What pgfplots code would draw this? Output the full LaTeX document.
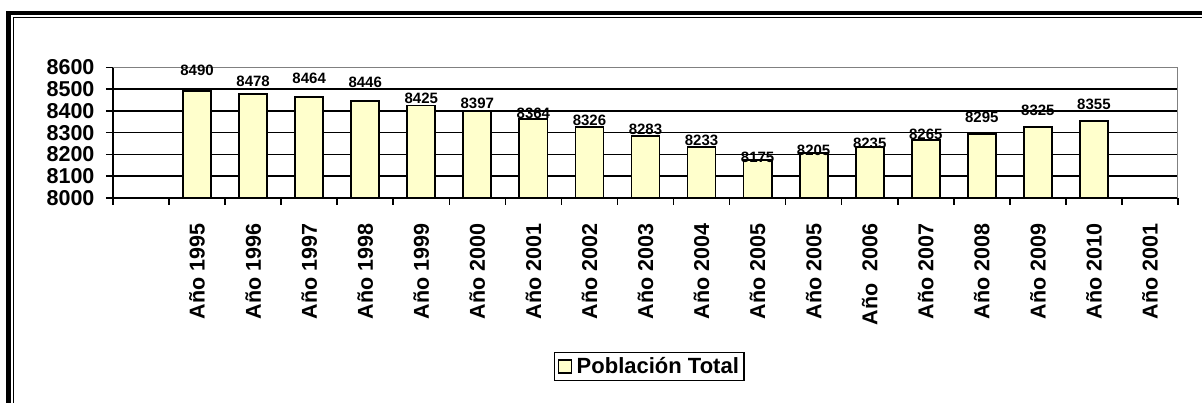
\documentclass[border=0pt]{standalone}
\usepackage{fontspec}
\setmainfont{Liberation Sans}
\usepackage{pgfplots}
\usepackage{pgfplotstable}
\pgfplotsset{compat=1.18}
\definecolor{barfill}{HTML}{FFFFCC}
\definecolor{framegray}{HTML}{808080}

\pgfplotstableread{
x y
1 8490
2 8478
3 8464
4 8446
5 8425
6 8397
7 8364
8 8326
9 8283
10 8233
11 8175
12 8205
13 8235
14 8265
15 8295
16 8325
17 8355
}\bars

\pgfplotstableread{
x ly v
1 8588 8490
2 8535 8478
3 8549 8464
4 8530 8446
5 8459 8425
6 8434 8397
7 8390 8364
8 8358 8326
9 8317 8283
10 8266 8233
11 8186 8175
12 8220 8205
13 8252 8235
14 8294 8265
15 8370 8295
16 8402 8325
17 8429 8355
}\labels

\begin{document}
\begin{tikzpicture}[x=1pt,y=1pt]
\path[use as bounding box] (0,0) rectangle (1202,403);
\draw[line width=4.5pt] (8.5,-20) -- (8.5,390) -- (1230,390);
\draw[line width=1.3pt] (13.5,-20) -- (13.5,385.5) -- (1230,385.5);
\begin{axis}[
  at={(113pt,205pt)}, anchor=south west,
  scale only axis, width=1065pt, height=130.7pt,
  xmin=-0.5, xmax=18.5, ymin=8000, ymax=8600,
  ytick={8000,8100,...,8600},
  ymajorgrids, grid style={black, line width=1.6pt},
  axis x line*=bottom, axis y line*=left,
  axis line style={black, line width=1.6pt, -},
  xtick={-0.5,0.5,...,18.5},
  x tick label as interval,
  xticklabels={{},Año 1995,Año 1996,Año 1997,Año 1998,Año 1999,Año 2000,Año 2001,Año 2002,Año 2003,Año 2004,Año 2005,Año 2005,Año\ \ 2006,Año 2007,Año 2008,Año 2009,Año 2010,Año 2001,{}},
  tick align=outside, major tick length=7pt,
  tick style={black, line width=1.6pt},
  xticklabel shift=15pt,
  yticklabel shift=8pt,
  xticklabel style={rotate=90, anchor=east, font=\fontsize{21.5}{21.5}\selectfont\bfseries},
  yticklabel style={font=\fontsize{21.5}{21.5}\selectfont\bfseries},
  /pgf/number format/assume math mode=true,
  /pgf/number format/1000 sep={},
  legend style={at={(0.5035,-1.289)}, anchor=center, draw=black, line width=1.5pt,
    font=\fontsize{22}{22}\selectfont\bfseries, inner xsep=3pt, inner ysep=3pt},
]
\addplot[ybar, bar width=0.5, fill=barfill, draw=black, line width=1.8pt,
  legend image code/.code={\draw[fill=barfill, draw=black, line width=1.2pt] (0pt,-6.5pt) rectangle (13pt,6.5pt);}]
  table[x=x,y=y]{\bars};
\addlegendentry{\hspace{3pt}Población Total\hspace{8pt}}
\addplot[forget plot, only marks, mark options={draw=none, fill=none},
  nodes near coords, point meta=explicit symbolic,
  nodes near coords style={anchor=center, font=\fontsize{15}{15}\selectfont\bfseries}]
  table[x=x,y=ly,meta=v]{\labels};
\draw[framegray, line width=1.6pt] (rel axis cs:0,1) -- (rel axis cs:1,1) -- (rel axis cs:1,0);
\end{axis}
\end{tikzpicture}
\end{document}
